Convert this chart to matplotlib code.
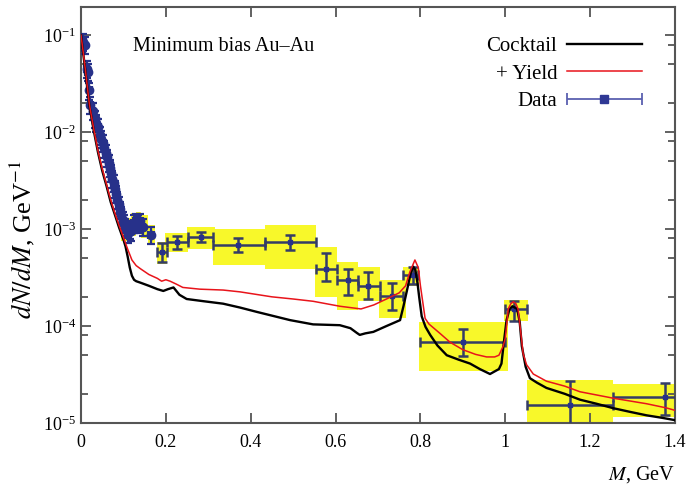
import numpy as np
import matplotlib
matplotlib.use("Agg")
import matplotlib.pyplot as plt
from matplotlib.legend_handler import HandlerErrorbar

plt.rcParams['font.family'] = ['Liberation Serif', 'DejaVu Serif']
plt.rcParams['mathtext.fontset'] = 'stix'

# ---- low-mass data points (dense region) ----
low_x = [0.005, 0.009, 0.013, 0.016, 0.019, 0.022, 0.028, 0.032, 0.036, 0.040,
         0.045, 0.048, 0.052, 0.055, 0.058, 0.062, 0.065, 0.068, 0.071, 0.074,
         0.077, 0.080, 0.083, 0.086, 0.089, 0.092, 0.095, 0.098, 0.101, 0.104,
         0.107, 0.111, 0.115, 0.119, 0.124, 0.129, 0.134, 0.139, 0.146, 0.165]
low_y = [0.085, 0.080, 0.045, 0.042, 0.027, 0.019, 0.0165, 0.0139, 0.0125, 0.0114,
         0.0093, 0.0085, 0.0077, 0.0068, 0.0061, 0.0055, 0.0048, 0.0043, 0.0038, 0.0033,
         0.0030, 0.0026, 0.0023, 0.0020, 0.0018, 0.0016, 0.0014, 0.00125, 0.00115, 0.00105,
         0.0010, 0.0009, 0.00098, 0.00095, 0.00115, 0.0012, 0.00115, 0.0012, 0.00105, 0.00087]
low_rel_err = 0.2
low_xerr = 0.006

# ---- binned data points ----
bin_x = [0.190, 0.227, 0.282, 0.371, 0.493, 0.577, 0.630, 0.677, 0.732, 0.783,
         0.901, 1.020, 1.152, 1.376]
bin_y = [5.8e-4, 7.4e-4, 8.3e-4, 6.9e-4, 7.4e-4, 3.9e-4, 2.95e-4, 2.6e-4, 2.05e-4, 3.35e-4,
         6.9e-5, 1.5e-4, 1.55e-5, 1.85e-5]
bin_lo = [0.180, 0.202, 0.253, 0.312, 0.434, 0.555, 0.603, 0.654, 0.705, 0.760,
          0.799, 0.999, 1.050, 1.255]
bin_hi = [0.202, 0.253, 0.312, 0.434, 0.555, 0.603, 0.654, 0.705, 0.760, 0.795,
          0.999, 1.050, 1.255, 1.500]
stat_lo = [4.6e-4, 6.3e-4, 7.4e-4, 5.8e-4, 6.1e-4, 2.9e-4, 2.1e-4, 1.9e-4, 1.45e-4, 2.7e-4,
           4.9e-5, 1.14e-4, 9.0e-6, 1.2e-5]
stat_hi = [7.1e-4, 8.5e-4, 9.4e-4, 8.0e-4, 8.7e-4, 5.6e-4, 3.9e-4, 3.6e-4, 2.75e-4, 4.1e-4,
           9.3e-5, 1.8e-4, 2.73e-5, 2.6e-5]

# ---- systematic-uncertainty boxes ----
sys_x0 = [0.095, 0.108, 0.118, 0.130, 0.142, 0.158,
          0.178, 0.198, 0.249, 0.312, 0.434, 0.551, 0.603, 0.650, 0.702, 0.760,
          0.797, 0.997, 1.050, 1.255]
sys_x1 = [0.108, 0.118, 0.130, 0.142, 0.158, 0.175,
          0.202, 0.253, 0.316, 0.434, 0.555, 0.603, 0.654, 0.705, 0.765, 0.797,
          1.006, 1.053, 1.255, 1.500]
sys_lo = [7.5e-4, 7.5e-4, 8.5e-4, 8.8e-4, 8.0e-4, 6.8e-4,
          4.4e-4, 5.8e-4, 6.3e-4, 4.3e-4, 3.9e-4, 2.0e-4, 1.46e-4, 1.8e-4, 1.2e-4, 2.6e-4,
          3.4e-5, 1.13e-4, 8.0e-6, 1.16e-5]
sys_hi = [1.3e-3, 1.3e-3, 1.45e-3, 1.5e-3, 1.4e-3, 1.1e-3,
          7.4e-4, 9.0e-4, 1.06e-3, 1.0e-3, 1.1e-3, 6.6e-4, 4.6e-4, 4.1e-4, 3.0e-4, 4.1e-4,
          1.1e-4, 1.86e-4, 2.8e-5, 2.5e-5]

# ---- cocktail curve ----
cocktail_x = [0.0, 0.005, 0.01, 0.015, 0.02, 0.03, 0.04, 0.05, 0.06, 0.07, 0.08, 0.09,
              0.10, 0.105, 0.11, 0.115, 0.12, 0.125, 0.13, 0.14, 0.16, 0.18, 0.194,
              0.205, 0.218, 0.232, 0.249, 0.29, 0.335, 0.375, 0.414, 0.45, 0.493,
              0.547, 0.61, 0.635, 0.65, 0.657, 0.67, 0.689, 0.72, 0.752, 0.76, 0.768,
              0.777, 0.783, 0.788, 0.793, 0.797, 0.803, 0.812, 0.823, 0.84, 0.862,
              0.89, 0.917, 0.94, 0.964, 0.985, 0.991, 0.997, 1.003, 1.01, 1.017,
              1.028, 1.034, 1.039, 1.048, 1.058, 1.075, 1.097, 1.14, 1.176, 1.215,
              1.255, 1.295, 1.333, 1.37, 1.4]
cocktail_y = [0.100, 0.066, 0.044, 0.028, 0.0185, 0.0104, 0.0062, 0.0040, 0.0028, 0.0019,
              0.0014, 0.00103, 0.00078, 0.00066, 0.00052, 0.00040, 0.00033, 0.00030,
              0.00029, 0.00028, 0.00026, 0.00024, 0.00023, 0.00024, 0.00025, 0.00021,
              0.00019, 0.00018, 0.00017, 0.000155, 0.00014, 0.000128, 0.000115,
              0.000104, 0.000102, 0.000095, 0.000085, 0.000081, 0.000084, 0.000087,
              0.0001, 0.000115, 0.00016, 0.00023, 0.00035, 0.00041, 0.00038, 0.00028,
              0.0002, 0.000126, 0.000098, 0.000081, 0.000063, 0.00005, 0.000045,
              0.000041, 0.000036, 0.000032, 0.000036, 0.000041, 0.00007, 0.000115,
              0.00015, 0.00016, 0.00015, 0.00011, 0.000062, 0.000038, 0.000029,
              0.000026, 0.000023, 0.00002, 0.0000174, 0.0000158, 0.0000142, 0.000013,
              0.000012, 0.0000113, 0.0000107]

# ---- cocktail + yield curve ----
yield_x = [0.0, 0.005, 0.01, 0.015, 0.02, 0.03, 0.04, 0.05, 0.06, 0.07, 0.08, 0.09,
           0.10, 0.11, 0.12, 0.13, 0.14, 0.16, 0.18, 0.19, 0.20, 0.21, 0.225, 0.24,
           0.28, 0.335, 0.375, 0.45, 0.50, 0.547, 0.61, 0.66, 0.69, 0.72, 0.75,
           0.765, 0.775, 0.787, 0.795, 0.80, 0.811, 0.82, 0.846, 0.87, 0.90, 0.93,
           0.956, 0.975, 0.985, 0.995, 1.0, 1.007, 1.013, 1.019, 1.025, 1.03, 1.036,
           1.042, 1.05, 1.066, 1.097, 1.14, 1.176, 1.255, 1.333, 1.38, 1.4]
yield_y = [0.100, 0.068, 0.045, 0.029, 0.019, 0.0108, 0.0064, 0.0042, 0.0029, 0.0020,
           0.00145, 0.00108, 0.00082, 0.00062, 0.00048, 0.00042, 0.00039, 0.00034,
           0.00031, 0.00029, 0.00030, 0.00029, 0.00027, 0.00025, 0.00024, 0.000235,
           0.000225, 0.00020, 0.00019, 0.00018, 0.00016, 0.00015, 0.000165, 0.00019,
           0.00022, 0.00026, 0.00036, 0.00048, 0.00040, 0.00026, 0.00012, 0.000105,
           0.000084, 0.000068, 0.000057, 0.000051, 0.000048, 0.000048, 0.00005,
           0.000062, 0.000075, 0.00015, 0.00017, 0.000178, 0.00017, 0.00015, 0.00009,
           0.000052, 0.00004, 0.000032, 0.000027, 0.000024, 0.000021, 0.000018,
           0.0000158, 0.0000143, 0.0000135]

data_color = '#27318a'
bar_color = '#343c66'
box_color = '#f8f82a'

fig = plt.figure(figsize=(6.89, 4.86), dpi=100)
ax = fig.add_axes([81 / 689, 63 / 486, 594 / 689, 416 / 486])
ax.set_yscale('log')
ax.set_xlim(0, 1.4)
ax.set_ylim(1e-5, 0.195)

# systematic boxes
sx0 = np.array(sys_x0)
sx1 = np.array(sys_x1)
slo = np.array(sys_lo)
shi = np.array(sys_hi)
ax.bar((sx0 + sx1) / 2, shi - slo, width=sx1 - sx0, bottom=slo,
       color=box_color, edgecolor='none', zorder=1)

# curves
l_cock, = ax.plot(cocktail_x, cocktail_y, color='black', lw=1.7, zorder=4, label='Cocktail')
l_yield, = ax.plot(yield_x, yield_y, color='#e8141b', lw=1.1, zorder=5, label='+ Yield')

# low-mass points
ly = np.array(low_y)
ax.errorbar(low_x, ly, xerr=low_xerr, yerr=[ly * low_rel_err, ly * low_rel_err],
            fmt='o', ms=6, color=data_color, ecolor=data_color, elinewidth=1.6,
            capsize=2.8, capthick=1.6, zorder=3)

# binned points
bx = np.array(bin_x)
by = np.array(bin_y)
xerr = [bx - np.array(bin_lo), np.array(bin_hi) - bx]
yerr = [by - np.array(stat_lo), np.array(stat_hi) - by]
ax.errorbar(bx, by, xerr=xerr, yerr=yerr, fmt='s', ms=3, color=data_color,
            ecolor=bar_color, elinewidth=1.8, capsize=3.5, capthick=1.8, zorder=3)

# legend proxy for the data
h_data = ax.errorbar([np.nan], [np.nan], xerr=[1], yerr=None, fmt='s', ms=6,
                     color='#2f3894', ecolor='#5a60b0', elinewidth=1.3, capsize=4,
                     capthick=1.3, label='Data')

leg = ax.legend(handles=[l_cock, l_yield, h_data], loc='upper right',
                bbox_to_anchor=(0.9685, 0.964), markerfirst=False, frameon=False,
                fontsize=15, handlelength=3.6, handletextpad=0.45,
                labelspacing=0.38, borderaxespad=0.3,
                handler_map={h_data: HandlerErrorbar(xerr_size=1.8)})

ax.text(0.088, 0.904, 'Minimum bias Au\u2013Au', transform=ax.transAxes,
        fontsize=14.5, ha='left', va='center')

ax.set_ylabel(r'$dN/dM$, GeV$^{-1}$', fontsize=19)
ax.yaxis.set_label_coords(-0.074, 0.44)
ax.set_xlabel(r'$M$, GeV', fontsize=14.5, loc='right', labelpad=9)

ax.set_xticks([0, 0.2, 0.4, 0.6, 0.8, 1.0, 1.2, 1.4])
ax.set_xticklabels(['0', '0.2', '0.4', '0.6', '0.8', '1', '1.2', '1.4'])
ax.yaxis.set_major_locator(matplotlib.ticker.LogLocator(base=10, numticks=10))
ax.yaxis.set_minor_locator(matplotlib.ticker.LogLocator(base=10, subs=(2, 5, 8), numticks=10))
ax.yaxis.set_minor_formatter(matplotlib.ticker.NullFormatter())

ax.tick_params(which='both', direction='in', top=True, right=True,
               color='#555555', labelsize=13, width=1.3)
ax.tick_params(which='major', length=7)
ax.tick_params(which='minor', length=5)
ax.tick_params(axis='x', pad=8)
for s in ax.spines.values():
    s.set_color('#555555')
    s.set_linewidth(1.5)

fig.savefig('out.png', dpi=100)
